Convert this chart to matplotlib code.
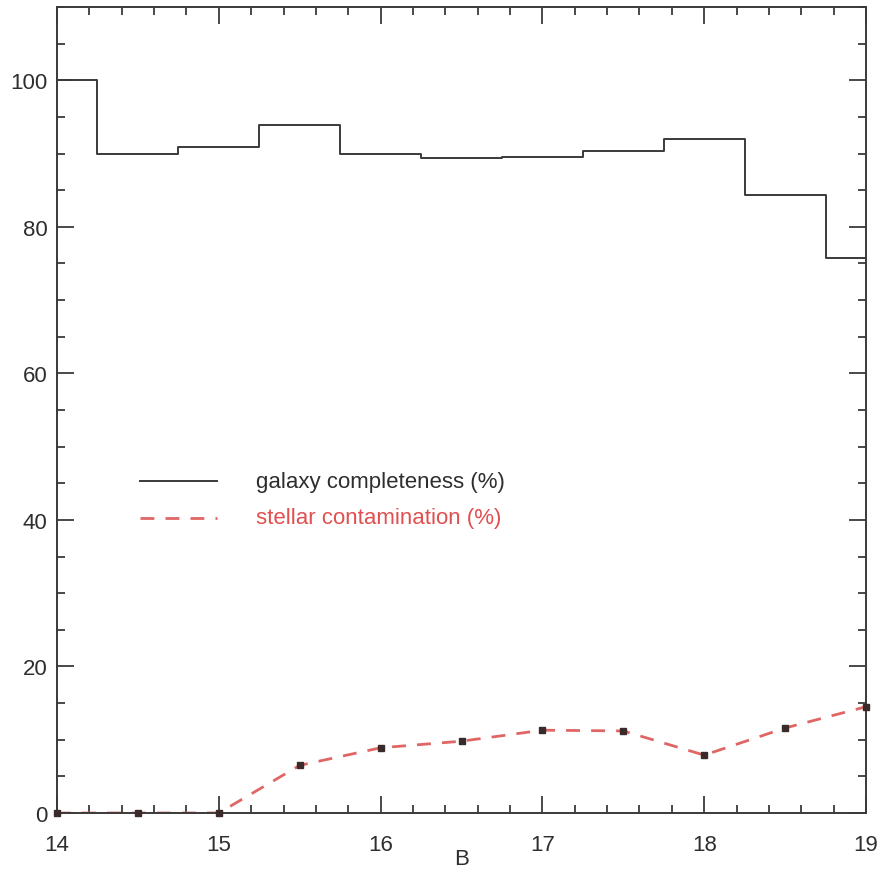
import matplotlib.pyplot as plt
from matplotlib.ticker import MultipleLocator

plt.rcParams['font.family'] = ['Liberation Sans', 'DejaVu Sans']

# magnitude bins (B)
mag = [14.0, 14.5, 15.0, 15.5, 16.0, 16.5, 17.0, 17.5, 18.0, 18.5, 19.0]
completeness = [100.0, 90.0, 90.9, 93.9, 90.0, 89.4, 89.5, 90.3, 92.0, 84.3, 75.7]
contamination = [0.0, 0.0, 0.0, 6.5, 8.9, 9.8, 11.3, 11.2, 7.9, 11.6, 14.5]

fig = plt.figure(figsize=(8.82, 8.87), dpi=100)
ax = fig.add_axes([57/882, 1 - 814/887, 809/882, 806/887])

ax.step(mag, completeness, where='mid', color='#3a3a3a', lw=1.4)
ax.plot(mag, contamination, color='#e06666', lw=2.0, ls=(0, (5, 4)))
ax.plot(mag, contamination, ls='none', marker='s', ms=4.5, color='#3a2a2a', clip_on=False, zorder=5)

ax.set_xlim(14, 19)
ax.set_ylim(0, 110)
ax.xaxis.set_major_locator(MultipleLocator(1))
ax.xaxis.set_minor_locator(MultipleLocator(0.2))
ax.yaxis.set_major_locator(MultipleLocator(20))
ax.yaxis.set_minor_locator(MultipleLocator(5))
ax.tick_params(which='both', direction='in', top=True, right=True,
               color='#3a3a3a', labelsize=16, labelcolor='#2e2e2e')
ax.tick_params(which='major', length=12, width=1.3, pad=7)
ax.tick_params(which='minor', length=6, width=1.3)
ax.tick_params(axis='x', which='major', pad=15)
for s in ax.spines.values():
    s.set_color('#3a3a3a')
    s.set_linewidth(1.4)

ax.set_xlabel('B', fontsize=16, color='#2e2e2e', labelpad=-5)

# legend drawn in data coordinates
ax.plot([14.51, 14.99], [45.3, 45.3], color='#3a3a3a', lw=1.4)
ax.plot([14.51, 14.99], [40.3, 40.3], color='#e06666', lw=2.0, ls=(0, (5, 4)))
ax.text(15.23, 45.3, 'galaxy completeness (%)', fontsize=16, color='#2e2e2e', va='center')
ax.text(15.23, 40.3, 'stellar contamination (%)', fontsize=16, color='#e05050', va='center')

fig.savefig('out.png', dpi=100)
